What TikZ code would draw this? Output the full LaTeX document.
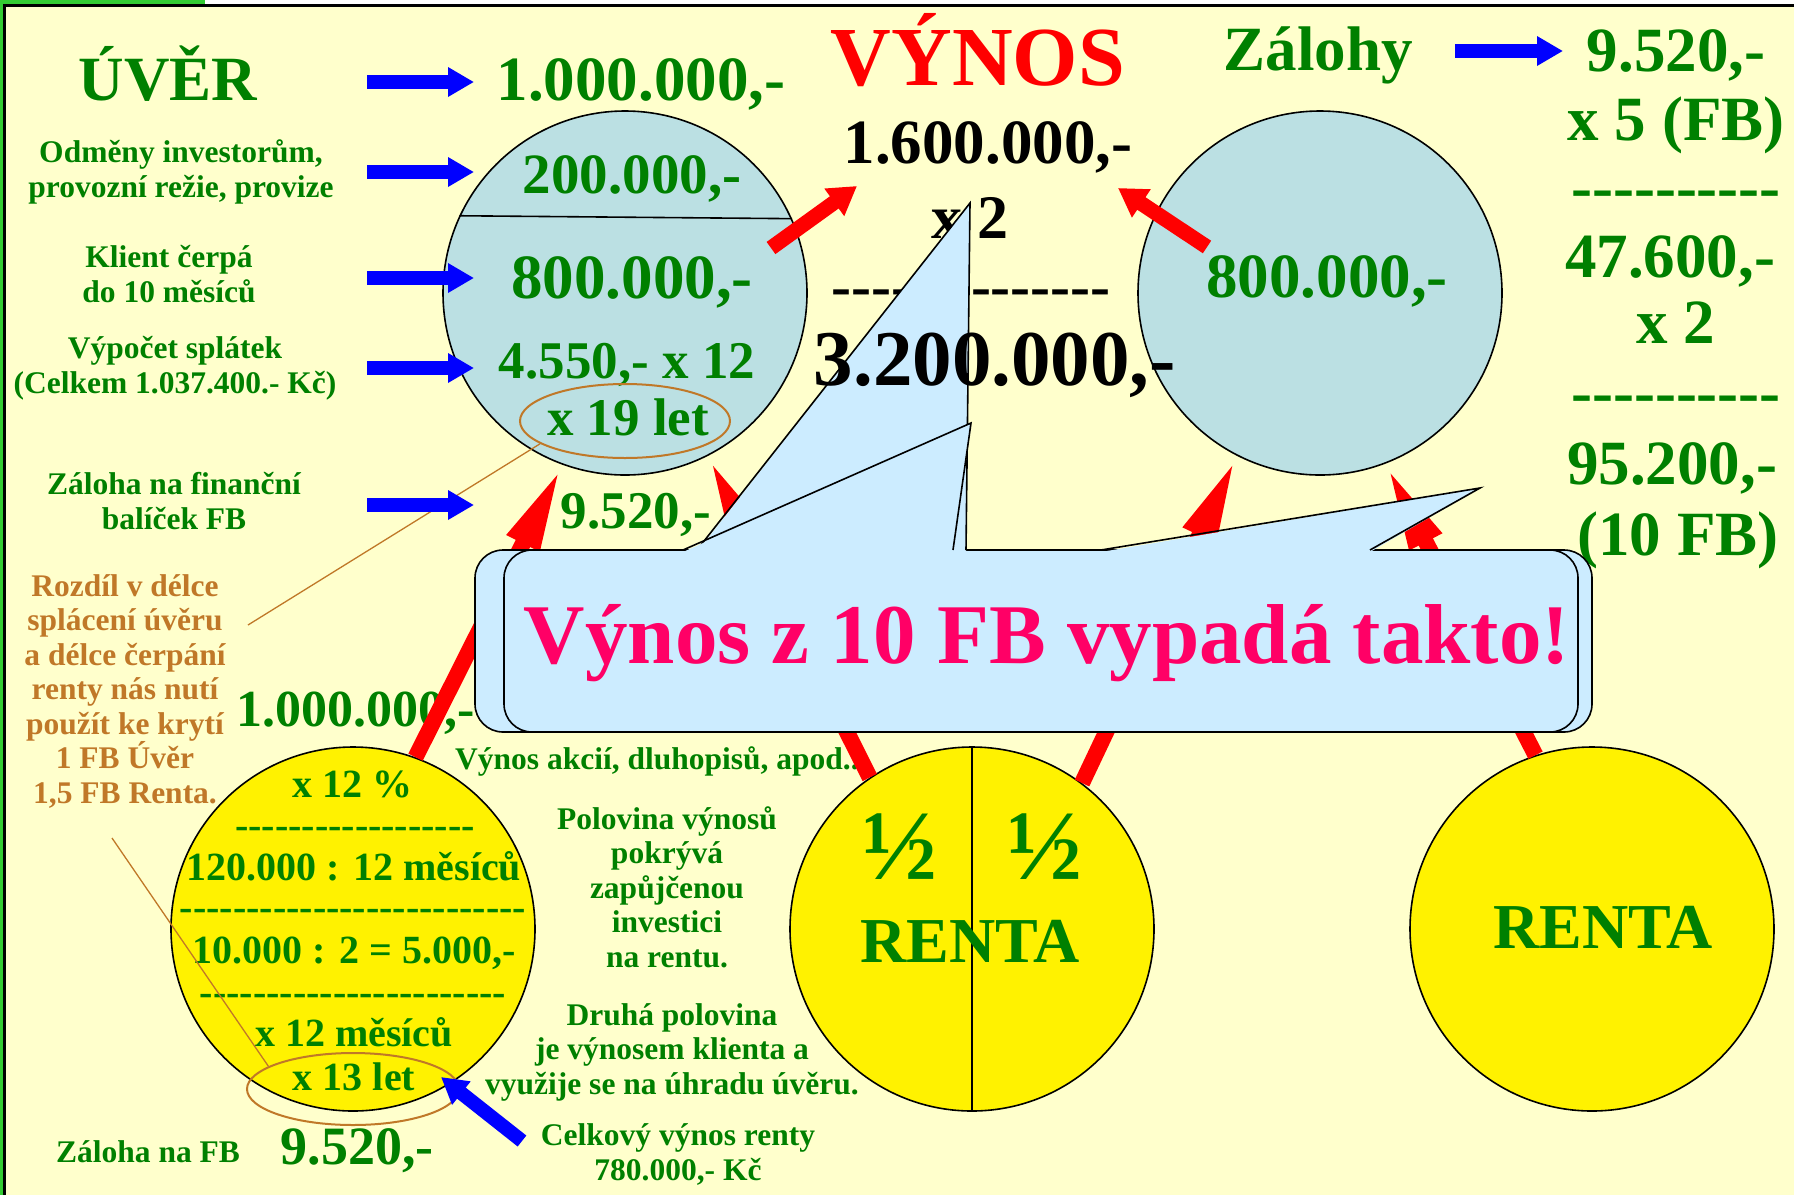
\documentclass[tikz,border=0pt]{standalone}
\usepackage{fontspec}
\setmainfont{Liberation Serif}[Ligatures=TeXOff]
\usetikzlibrary{arrows.meta,shapes.geometric}
\definecolor{paper}{HTML}{FFFFCC}
\definecolor{txtgreen}{HTML}{008000}
\definecolor{edgegreen}{HTML}{33CC33}
\definecolor{pale}{HTML}{BBE0E3}
\definecolor{sky}{HTML}{CCECFF}
\definecolor{pink}{HTML}{FF0066}
\definecolor{brownish}{HTML}{C07828}

\begin{document}
\begin{tikzpicture}
	[x=1pt,y=-1pt,
	txt/.style={inner sep=0pt,anchor=base,text=txtgreen},
	bigtxt/.style={font=\fontsize{63}{63}\selectfont\bfseries},
	midtxt/.style={font=\fontsize{53}{53}\selectfont\bfseries},
	celltxt/.style={font=\fontsize{40}{40}\selectfont\bfseries},
	notetxt/.style={font=\fontsize{31.5}{34.5}\selectfont\bfseries,align=center},
	disc/.style={shape=circle,draw=black,line width=1.6pt,minimum size=364pt,inner sep=0pt},
	ring/.style={shape=ellipse,draw=brownish,line width=2pt,inner sep=0pt},
	bluearc/.style={-{Triangle[length=26pt,width=28pt]},draw=blue,line width=14pt},
	redarc/.style={-{Triangle[length=88pt,width=32pt]},draw=red,line width=16pt},
	redtip/.style={-{Triangle[length=28pt,width=32pt]},draw=red,line width=15pt},
	panel/.style={shape=rectangle,fill=sky,draw=black,line width=1.6pt,rounded corners=28pt,minimum height=182pt,inner sep=0pt},
	guide/.style={draw=brownish,line width=1.3pt}]
	\useasboundingbox (0,0) rectangle (1794,1195);
	\fill[white] (0,0) rectangle (1794,1195);
	\fill[paper] (5,5) rectangle (1794,1195);
	\fill[edgegreen] (0,0) rectangle (205,4);
	\fill[edgegreen] (0,0) rectangle (3,1195);
	\draw[line width=2.5pt] (1794,5.3) -- (4.3,5.3) -- (4.3,1195);
	
	\node (tlc) [disc,fill=pale] at (625,293) {};
	\node (trc) [disc,fill=pale] at (1320,293) {};
	\node (llc) [disc,fill=yellow] at (353,929) {};
	\node (mc) [disc,fill=yellow] at (972,929) {};
	\node (rc) [disc,fill=yellow] at (1592,929) {};
	\draw[line width=1.6pt] (tlc.155.3) -- (tlc.24.7);
	\draw[line width=1.3pt] (mc.north) -- (mc.south);
	
	\node (uver) [txt,bigtxt] at (168,100) {ÚVĚR};
	\node (loan) [txt,bigtxt] at (641,100) {1.000.000,-};
	\node (odm) [txt,notetxt] at (181,197) {Odměny investorům,\\provozní režie, provize};
	\node (kli) [txt,notetxt] at (169,302) {Klient čerpá\\do 10 měsíců};
	\node (vyp) [txt,notetxt] at (175,393) {Výpočet splátek\\(Celkem 1.037.400.- Kč)};
	\node (zal1) [txt,notetxt] at (174,529) {Záloha na finanční\\balíček FB};
	\node (rozd) [txt,notetxt,text=brownish] at (125,803) {Rozdíl v délce\\splácení úvěru\\a délce čerpání\\renty nás nutí\\použít ke krytí\\1 FB Úvěr\\1,5 FB Renta.};
	
	\node (fee) [txt,font=\fontsize{57}{57}\selectfont\bfseries] at (632,193) {200.000,-};
	\node (cash) [txt,bigtxt] at (632,298) {800.000,-};
	\node (rate) [txt,midtxt] at (627,378) {4.550,- x 12};
	\node (yrs) [txt,midtxt] at (628,435) {x 19 let};
	\node (e19) [ring,minimum width=210pt,minimum height=74pt] at (625,421) {};
	\node (dep) [txt,midtxt] at (636,528) {9.520,-};
	
	\node (vyn) [txt,text=red,font=\fontsize{84}{84}\selectfont\bfseries] at (978,85) {VÝNOS};
	\node (sum1) [txt,text=black,font=\fontsize{63}{63}\selectfont\bfseries] at (988,163) {1.600.000,-};
	\node (twice) [txt,text=black,font=\fontsize{62}{62}\selectfont\bfseries] at (970,238) {x 2};
	\node (bar) [txt,text=black,font=\fontsize{60}{60}\selectfont\bfseries] at (971,306) {--------------};
	
	\node (trv) [txt,bigtxt] at (1327,297) {800.000,-};
	\node (zal) [txt,bigtxt] at (1318,70) {Zálohy};
	\node (q1) [txt,bigtxt] at (1676,71) {9.520,-};
	\node (q2) [txt,bigtxt] at (1676,140) {x 5 (FB)};
	\node (q3) [txt,bigtxt] at (1676,208) {----------};
	\node (q4) [txt,bigtxt] at (1670,277) {47.600,-};
	\node (q5) [txt,bigtxt] at (1676,343) {x 2};
	\node (q6) [txt,bigtxt] at (1676,413) {----------};
	\node (q7) [txt,bigtxt] at (1672,484) {95.200,-};
	\node (q8) [txt,bigtxt] at (1678,555) {(10 FB)};
	
	\node (pct) [txt,celltxt] at (352,797) {x 12 \%};
	\node (d1) [txt,celltxt] at (355,838) {------------------};
	\node (mon) [txt,celltxt] at (354,880) {120.000 : 12 měsíců};
	\node (d2) [txt,celltxt] at (353,920) {--------------------------};
	\node (split) [txt,celltxt] at (354,963) {10.000 : 2 = 5.000,-};
	\node (d3) [txt,celltxt] at (353,1005) {-----------------------};
	\node (m12) [txt,celltxt] at (354,1046) {x 12 měsíců};
	\node (yrs13) [txt,celltxt] at (354,1090) {x 13 let};
	\node (e13) [ring,minimum width=212pt,minimum height=72pt] at (353,1089) {};
	\node (loan2) [txt,font=\fontsize{52}{52}\selectfont\bfseries] at (356,726) {1.000.000,-};
	\node (zal2) [txt,notetxt] at (148,1162) {Záloha na FB};
	\node (dep2) [txt,font=\fontsize{54}{54}\selectfont\bfseries] at (357,1164) {9.520,-};
	
	\node (akc) [txt,notetxt] at (657,769) {Výnos akcií, dluhopisů, apod..};
	\node (pol) [txt,notetxt] at (667,967) {Polovina výnosů\\pokrývá\\zapůjčenou\\investici\\na rentu.};
	\node (dru) [txt,notetxt] at (672,1094) {Druhá polovina\\je výnosem klienta a\\využije se na úhradu úvěru.};
	\node (cel) [txt,notetxt] at (678,1180) {Celkový výnos renty\\780.000,- Kč};
	
	\node (h1) [txt,font=\fontsize{100}{100}\selectfont\bfseries] at (900,879) {½};
	\node (h2) [txt,font=\fontsize{100}{100}\selectfont\bfseries] at (1045,879) {½};
	\node (ren1) [txt,font=\fontsize{64}{64}\selectfont\bfseries] at (970,962) {RENTA};
	\node (ren2) [txt,font=\fontsize{64}{64}\selectfont\bfseries] at (1603,948) {RENTA};
	
	\coordinate (g1) at (248,625);
	\coordinate (g2) at (112,838);
	\draw [guide] (e19.195) -- (g1);
	\draw [guide] (e13.165) -- (g2);
	
	\coordinate (b1s) at (367,82);
	\coordinate (b1e) at (474,82);
	\coordinate (b2s) at (367,172);
	\coordinate (b2e) at (474,172);
	\coordinate (b3s) at (367,278);
	\coordinate (b3e) at (474,278);
	\coordinate (b4s) at (367,368);
	\coordinate (b4e) at (474,368);
	\coordinate (b5s) at (367,505);
	\coordinate (b5e) at (474,505);
	\coordinate (b6s) at (1455,51);
	\coordinate (b6e) at (1563,51);
	\coordinate (b7s) at (522,1141);
	\coordinate (b7e) at (441,1077);
	\draw [bluearc] (b1s) to (b1e);
	\draw [bluearc] (b2s) to (b2e);
	\draw [bluearc] (b3s) to (b3e);
	\draw [bluearc] (b4s) to (b4e);
	\draw [bluearc] (b5s) to (b5e);
	\draw [bluearc] (b6s) to (b6e);
	\draw [bluearc] (b7s) to (b7e);
	
	\draw [redarc] (llc.70.7) to (tlc.-110.7);
	\draw [redarc] (mc.124.6) to (tlc.-63.2);
	\draw [redarc] (mc.53.3) to (trc.-117.7);
	\draw [redarc] (rc.108) to (trc.-69.3);
	\coordinate (r1s) at (771,248);
	\coordinate (r1e) at (857,186);
	\coordinate (r2s) at (1207,247);
	\coordinate (r2e) at (1118,188);
	\draw [redtip] (r1s) to (r1e);
	\draw [redtip] (r2s) to (r2e);
	
	\node (back) [panel,minimum width=1117pt] at (1033.5,641) {};
	\node (front) [panel,minimum width=1074pt] at (1041,641) {};
	\fill[sky] (697,552) -- (970,203) -- (966,552) -- cycle;
	\draw[line width=1.6pt] (697,550) -- (970,203) -- (966,550);
	\fill[sky] (683,552) -- (971,423) -- (953,552) -- cycle;
	\draw[line width=1.6pt] (683,550) -- (971,423) -- (953,550);
	\fill[sky] (1101,552) -- (1480,488) -- (1370,552) -- cycle;
	\draw[line width=1.6pt] (1101,550) -- (1480,488) -- (1370,550);
	\node (msg) [txt,text=pink,font=\fontsize{85}{85}\selectfont\bfseries] at (1047,663) {Výnos z 10 FB vypadá takto!};
	\node (sum2) [txt,text=black,font=\fontsize{79}{79}\selectfont\bfseries] at (995,385) {3.200.000,-};
\end{tikzpicture}
\end{document}
